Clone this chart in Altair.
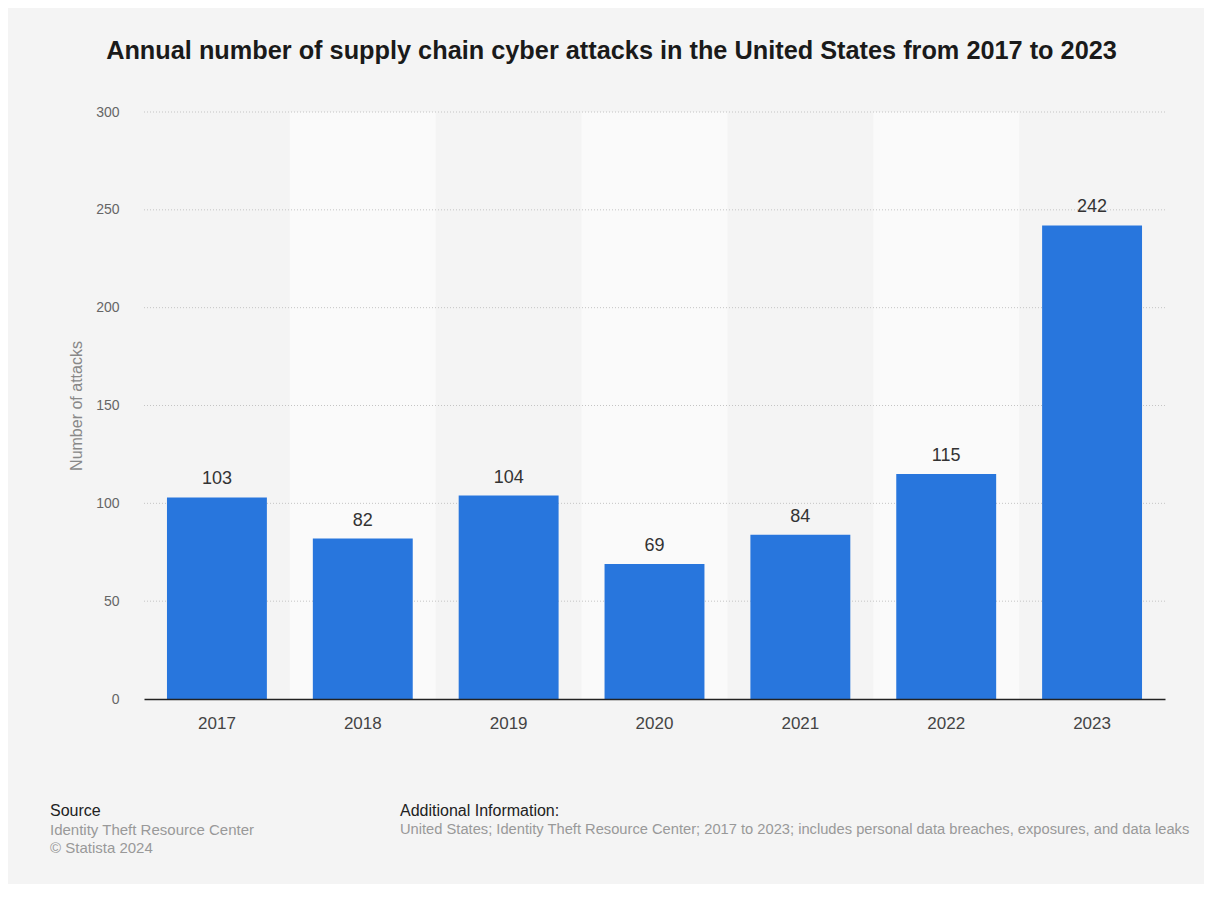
import altair as alt
import pandas as pd

years = ["2017", "2018", "2019", "2020", "2021", "2022", "2023"]
attacks = [103, 82, 104, 69, 84, 115, 242]
shaded_years = ["2018", "2020", "2022"]
grid_values = [50, 100, 150, 200, 250, 300]
y_ticks = [0, 50, 100, 150, 200, 250, 300]

title_text = "Annual number of supply chain cyber attacks in the United States from 2017 to 2023"
source_head = "Source"
source_lines = ["Identity Theft Resource Center", "© Statista 2024"]
info_head = "Additional Information:"
info_line = "United States; Identity Theft Resource Center; 2017 to 2023; includes personal data breaches, exposures, and data leaks"

FONT = "Liberation Sans"
W, H = 1021, 587

df = pd.DataFrame({"year": years, "attacks": attacks})
base = alt.Chart(df)

y_scale = alt.Scale(domain=[0, 300], nice=False)
y_axis = alt.Axis(
    title="Number of attacks", values=y_ticks, grid=False, domain=False, ticks=False,
    labelColor="#666666", labelFontSize=14, labelFont=FONT, labelPadding=25,
    titleColor="#888888", titleFontSize=16, titleFont=FONT, titleFontWeight="normal",
    titlePadding=11,
)

bands = base.transform_filter(
    alt.FieldOneOfPredicate(field="year", oneOf=shaded_years)
).mark_rect(color="#fafafa").encode(
    x=alt.X("year:N", scale=alt.Scale(domain=years, paddingInner=0, paddingOuter=0), axis=None),
    y=alt.value(0),
    y2=alt.value(H),
)

grid = alt.Chart(pd.DataFrame({"g": grid_values})).mark_rule(
    color="#c4c4c4", strokeDash=[1, 2], strokeWidth=1
).encode(y=alt.Y("g:Q", scale=y_scale, axis=y_axis))

bar_x_scale = alt.Scale(domain=years, paddingInner=0.315, paddingOuter=0.1575)

bars = base.mark_bar(color="#2876dd").encode(
    x=alt.X(
        "year:N", scale=bar_x_scale,
        axis=alt.Axis(
            title=None, labelAngle=0, ticks=False, domainColor="#222222", domainWidth=1.5,
            labelColor="#444444", labelFontSize=17, labelFont=FONT, labelPadding=16,
            zindex=1,
        ),
    ),
    y=alt.Y("attacks:Q", scale=y_scale, axis=y_axis),
)

labels = base.mark_text(
    baseline="bottom", dy=-9, fontSize=18, font=FONT, color="#333333"
).encode(
    x=alt.X("year:N", scale=bar_x_scale, axis=None),
    y=alt.Y("attacks:Q", scale=y_scale, axis=y_axis),
    text=alt.Text("attacks:Q"),
)

def note(text, x, y, size, color):
    return alt.Chart(pd.DataFrame({"t": [text]})).mark_text(
        align="left", baseline="middle", fontSize=size, font=FONT, color=color
    ).encode(text="t:N", x=alt.value(x), y=alt.value(y))

footer = [
    note(source_head, -94, 699, 16, "#222222"),
    note(source_lines[0], -94, 718, 15, "#999999"),
    note(source_lines[1], -94, 736, 15, "#999999"),
    note(info_head, 256, 699, 16, "#222222"),
    note(info_line, 256, 718, 14.7, "#999999"),
]

chart = alt.layer(bands, grid, bars, labels, *footer).resolve_scale(x="independent").properties(
    width=W,
    height=H,
    autosize=alt.AutoSizeParams(type="none"),
    padding={"left": 136, "top": 104, "right": 39, "bottom": 185},
    background="#f4f4f4",
    title=alt.Title(
        title_text, anchor="middle", dx=-43, offset=41, fontSize=25.3, font=FONT,
        fontWeight="bold", color="#1a1a1a",
    ),
).configure_view(stroke=None)

chart.save("out.html", embed_options={"renderer": "svg", "actions": False})
